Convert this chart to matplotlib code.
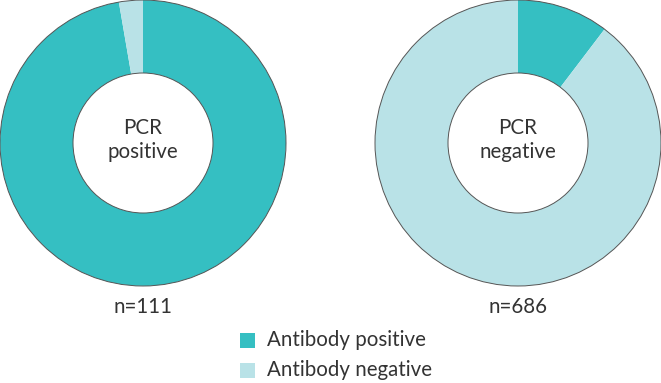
import matplotlib.pyplot as plt
from matplotlib.patches import Circle, Rectangle

# antibody results inside each PCR group
groups = ["PCR\npositive", "PCR\nnegative"]
group_n = ["n=111", "n=686"]
antibody_labels = ["Antibody positive", "Antibody negative"]
pcr_pos_counts = [108, 3]
pcr_neg_counts = [71, 615]

colors = ["#35BFC2", "#B9E2E7"]
text_color = "#333333"

plt.rcParams['font.family'] = ['Lato', 'DejaVu Sans']

fig = plt.figure(figsize=(6.61, 3.83), dpi=100)
ax = fig.add_axes([0, 0, 1, 1])

R = 143
r_in = 70
centers = [(143, 240), (518, 240)]
fs = 14.8

for (cx, cy), counts, title, n in zip(centers, [pcr_pos_counts, pcr_neg_counts], groups, group_n):
    ax.pie(counts, colors=colors, startangle=90, counterclock=False,
           radius=R, center=(cx, cy), frame=True,
           wedgeprops=dict(width=R - r_in, linewidth=0))
    # thin outlines on outer and inner edge
    ax.add_patch(Circle((cx, cy), R, fill=False, edgecolor="#555555", linewidth=0.7))
    ax.add_patch(Circle((cx, cy), r_in, fill=False, edgecolor="#555555", linewidth=0.7))
    ax.text(cx, cy + 3, title, ha='center', va='center', fontsize=fs,
            color=text_color, linespacing=1.3)
    ax.text(cx, 383 - 307, n, ha='center', va='center', fontsize=fs, color=text_color)

# legend drawn by hand, square swatches
for i, (lab, col) in enumerate(zip(antibody_labels, colors)):
    y = 383 - (340 + 30 * i)
    ax.add_patch(Rectangle((240, y - 7.5), 15, 15, facecolor=col, edgecolor='none'))
    ax.text(267, y, lab, ha='left', va='center', fontsize=fs, color=text_color)

ax.set_xlim(0, 661)
ax.set_ylim(0, 383)
ax.set_aspect('equal')
ax.axis('off')

fig.savefig("out.png", dpi=100)
